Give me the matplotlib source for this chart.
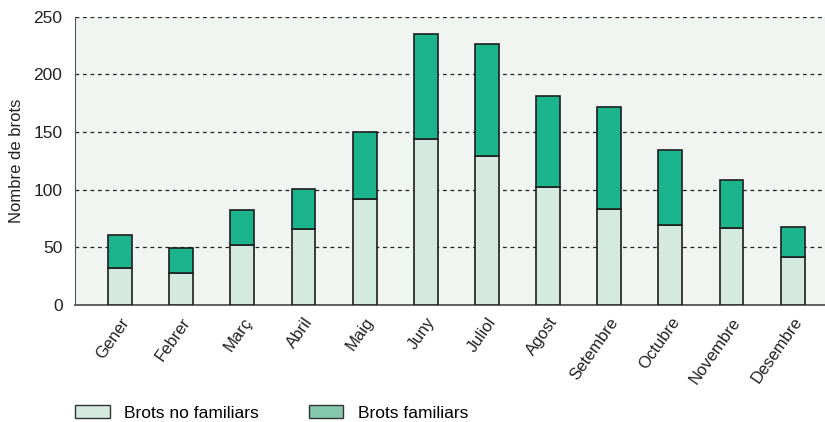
import matplotlib.pyplot as plt
from matplotlib.patches import Patch

# Dades llegides del gràfic
mesos = ['Gener', 'Febrer', 'Març', 'Abril', 'Maig', 'Juny', 'Juliol',
         'Agost', 'Setembre', 'Octubre', 'Novembre', 'Desembre']
no_familiars = [32, 28, 52, 66, 92, 144, 129, 102, 83, 69, 67, 42]
familiars = [29, 21, 30, 35, 58, 91, 97, 79, 89, 65, 41, 26]

plt.rcParams['font.family'] = ['Liberation Sans', 'DejaVu Sans']

fig = plt.figure(figsize=(8.25, 4.22), dpi=100)
ax = fig.add_axes([75 / 825, 1 - 305 / 422, 1 - 75 / 825, (305 - 16.7) / 422])
ax.set_facecolor('#f0f5f1')

x = list(range(len(mesos)))
ax.bar(x, no_familiars, width=0.39, color='#d4e9df', edgecolor='#1e1e1e',
       linewidth=1.2, zorder=3)
ax.bar(x, familiars, width=0.39, bottom=no_familiars, color='#1bb48d',
       edgecolor='#1e1e1e', linewidth=1.2, zorder=3)

ax.set_xlim(-0.736, 11.53)
ax.set_ylim(0, 250)
ax.set_yticks([0, 50, 100, 150, 200, 250])
ax.yaxis.grid(True, linestyle=(0, (3, 3)), color='#222222', linewidth=0.9)
ax.set_axisbelow(True)

ax.set_xticks(x)
ax.set_xticklabels(mesos, rotation=55, ha='right', rotation_mode='anchor')
ax.tick_params(axis='x', length=0, labelsize=12, pad=7, colors='#222222')
ax.tick_params(axis='y', length=0, labelsize=12.5, pad=9, colors='#222222')
ax.set_ylabel('Nombre de brots', fontsize=12, color='#222222', labelpad=7)

for s in ['top', 'right']:
    ax.spines[s].set_visible(False)
ax.spines['left'].set_color('#555555')
ax.spines['bottom'].set_color('#555555')
ax.spines['bottom'].set_linewidth(1.3)

handles = [Patch(facecolor='#d4e9df', edgecolor='#333333', label='Brots no familiars'),
           Patch(facecolor='#86c8ae', edgecolor='#333333', label='Brots familiars')]
fig.legend(handles=handles, loc='center left', bbox_to_anchor=(75 / 825, 1 - 413 / 422),
           ncol=2, frameon=False, fontsize=12.5, handlelength=2.0, handleheight=0.7,
           handletextpad=0.85, columnspacing=2.85, borderpad=0, borderaxespad=0)

fig.savefig('out.png', dpi=100)
